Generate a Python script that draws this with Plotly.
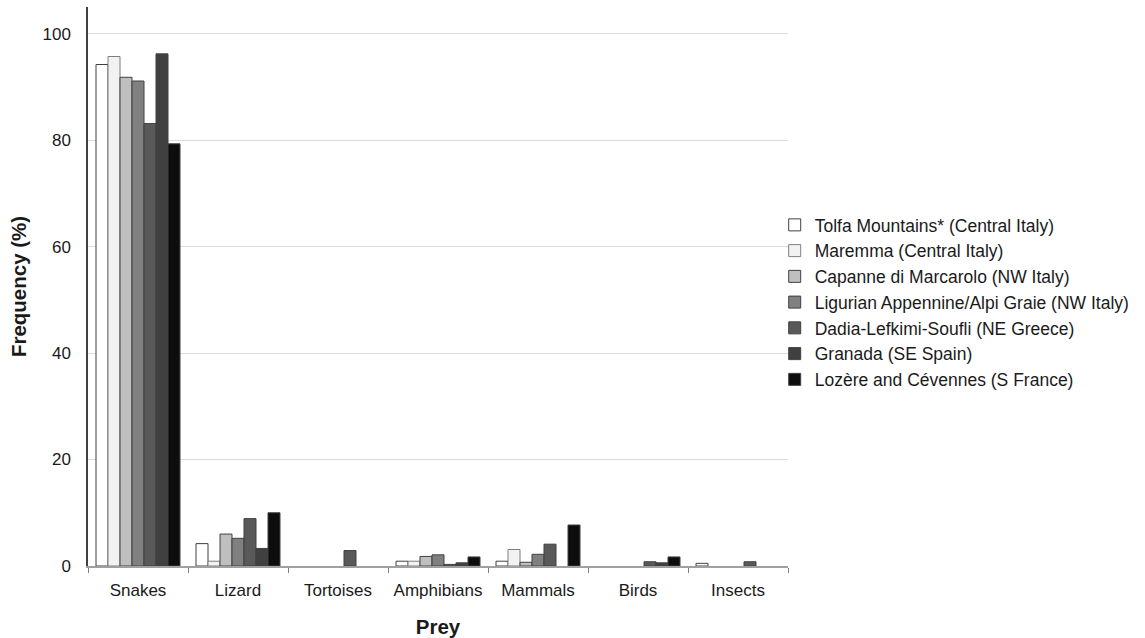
import plotly.graph_objects as go

categories = ["Snakes", "Lizard", "Tortoises", "Amphibians", "Mammals", "Birds", "Insects"]

series_names = [
    "Tolfa Mountains* (Central Italy)",
    "Maremma (Central Italy)",
    "Capanne di Marcarolo (NW Italy)",
    "Ligurian Appennine/Alpi Graie (NW Italy)",
    "Dadia-Lefkimi-Soufli (NE Greece)",
    "Granada (SE Spain)",
    "Lozère and Cévennes (S France)",
]

tolfa = [94.2, 4.2, 0, 0.9, 0.9, 0, 0.5]
maremma = [95.7, 0.9, 0, 0.9, 3.1, 0, 0]
capanne = [91.8, 6.0, 0, 1.8, 0.7, 0, 0]
ligurian = [91.1, 5.2, 0, 2.1, 2.2, 0, 0]
dadia = [83.1, 8.9, 2.9, 0.3, 4.1, 0.8, 0.8]
granada = [96.2, 3.3, 0, 0.6, 0, 0.6, 0]
lozere = [79.3, 10.0, 0, 1.7, 7.7, 1.7, 0]

series_values = [tolfa, maremma, capanne, ligurian, dadia, granada, lozere]
colors = ["#FFFFFF", "#F2F2F2", "#BFBFBF", "#808080", "#595959", "#404040", "#0D0D0D"]
outlines = ["#404040", "#7F7F7F", "#404040", "#404040", "#404040", "#404040", "#404040"]

fig = go.Figure()
for name, vals, c, oc in zip(series_names, series_values, colors, outlines):
    shown = [v if v != 0 else None for v in vals]
    fig.add_trace(go.Bar(
        x=categories, y=shown, name=name,
        marker=dict(color=c, line=dict(color=oc, width=1)),
    ))

fig.update_layout(
    width=1145, height=638,
    barmode="group", bargap=0.16, bargroupgap=0,
    plot_bgcolor="white", paper_bgcolor="white",
    margin=dict(l=88, r=357, t=7, b=72, autoexpand=False),
    font=dict(family="Liberation Sans, Arial, sans-serif", size=17, color="#1a1a1a"),
    legend=dict(
        x=0.981, xanchor="left", y=0.4714, yanchor="middle",
        font=dict(size=17.5, color="#1a1a1a"),
        itemwidth=30,
        bgcolor="rgba(0,0,0,0)",
    ),
    showlegend=True,
)
fig.update_xaxes(
    title=dict(text="<b>Prey</b>", font=dict(size=20.5), standoff=20),
    automargin=False,
    showline=True, linecolor="#A0A0A0", linewidth=1.5,
    ticks="outside", tickson="boundaries", ticklen=5, tickcolor="#808080",
    ticklabelstandoff=8,
    showgrid=False,
)
fig.update_yaxes(
    title=dict(text="<b>Frequency (%)</b>", font=dict(size=20.5), standoff=10),
    automargin=False,
    range=[0, 105], tickvals=[0, 20, 40, 60, 80, 100],
    showline=True, linecolor="#404040", linewidth=1.5,
    showgrid=True, gridcolor="#DDDDDD", gridwidth=1,
    ticks="", zeroline=False, ticklabelstandoff=12,
)

fig.write_html("out.html", config={"displayModeBar": False},
               post_script="document.body.style.margin='0';")
